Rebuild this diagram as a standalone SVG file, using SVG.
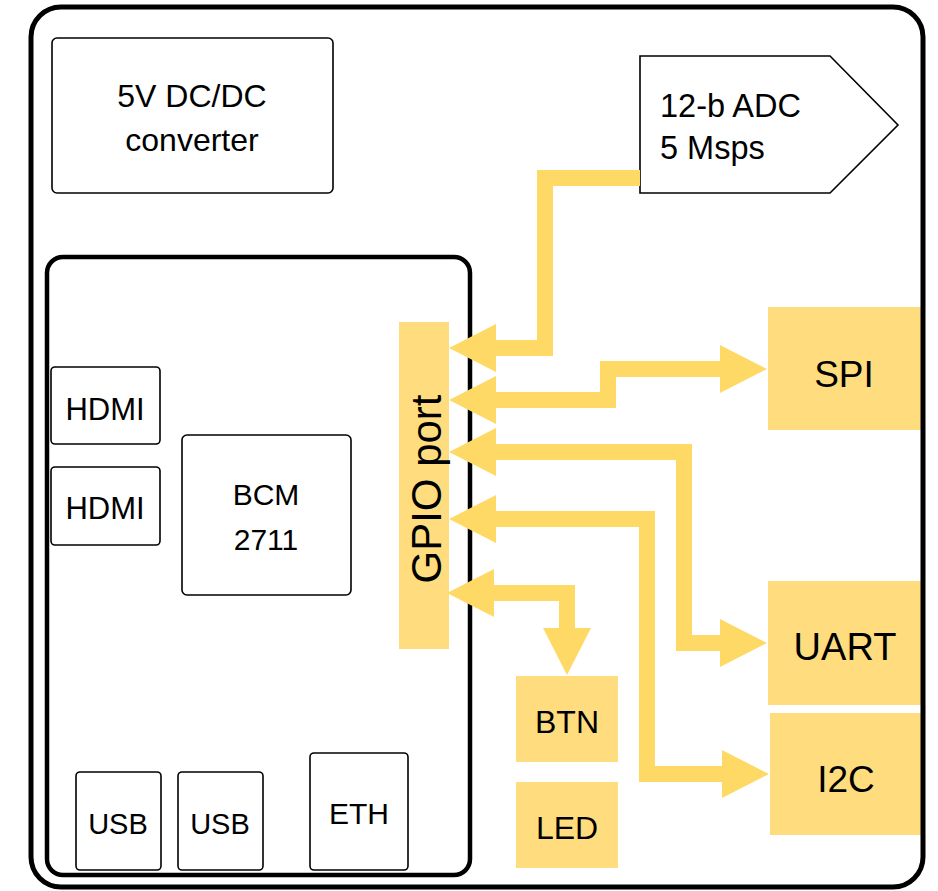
<svg xmlns="http://www.w3.org/2000/svg" width="938" height="891" viewBox="0 0 938 891">
<style>
text{font-family:"Liberation Sans",Arial,sans-serif;fill:#000}
.box{fill:#fff;stroke:#000;stroke-width:1.6}
.ybox{fill:#FFDD7E;stroke:none}
.wire{fill:none;stroke:#FFD966;stroke-width:16;stroke-linejoin:miter}
.c{text-anchor:middle}
</style>
<defs>
<marker id="ah" markerUnits="userSpaceOnUse" markerWidth="48" markerHeight="48" viewBox="0 0 48 48" refX="0" refY="24" orient="auto-start-reverse">
<path d="M0,0 L47,24 L0,48 Z" fill="#FFD966"/>
</marker>
</defs>
<rect width="938" height="891" fill="#fff"/>

<g id="board"><rect x="47" y="257" width="423" height="618" rx="16" fill="none" stroke="#000" stroke-width="4.5"/></g>

<g id="dcdc"><rect class="box" x="52" y="38" width="281" height="155" rx="5"/>
<text class="c" x="192" y="107" font-size="32">5V DC/DC</text>
<text class="c" x="192" y="151" font-size="32">converter</text></g>

<g id="adc"><polygon class="box" points="640,56 830,56 898,125 830,193 640,193"/>
<text x="660" y="117" font-size="32.5">12-b ADC</text>
<text x="660" y="159" font-size="32.5">5 Msps</text></g>

<g id="hdmi1"><rect class="box" x="51" y="367" width="109" height="77" rx="4"/>
<text class="c" x="105" y="420" font-size="31">HDMI</text></g>
<g id="hdmi2"><rect class="box" x="51" y="467" width="109" height="78" rx="4"/>
<text class="c" x="105" y="519" font-size="31">HDMI</text></g>

<g id="bcm"><rect class="box" x="182" y="435" width="169" height="160" rx="5"/>
<text class="c" x="266" y="505" font-size="30">BCM</text>
<text class="c" x="266" y="550" font-size="30">2711</text></g>

<g id="usb1"><rect class="box" x="76" y="772" width="85" height="98" rx="4"/>
<text class="c" x="118" y="834" font-size="29">USB</text></g>
<g id="usb2"><rect class="box" x="178" y="772" width="85" height="98" rx="4"/>
<text class="c" x="220" y="834" font-size="29">USB</text></g>
<g id="eth"><rect class="box" x="310" y="753" width="98" height="117" rx="4"/>
<text class="c" x="359" y="824" font-size="30">ETH</text></g>

<g id="gpio"><rect class="ybox" x="399" y="322" width="50" height="327"/>
<text class="c" transform="translate(441,489) rotate(-90)" font-size="42">GPIO port</text></g>

<g id="spi"><rect class="ybox" x="768" y="307" width="154" height="123"/>
<text class="c" x="844" y="387" font-size="37">SPI</text></g>
<g id="uart"><rect class="ybox" x="768" y="581" width="154" height="124"/>
<text class="c" x="845" y="660" font-size="38">UART</text></g>
<g id="i2c"><rect class="ybox" x="770" y="713" width="152" height="122"/>
<text class="c" x="846" y="792" font-size="37">I2C</text></g>

<g id="btn"><rect class="ybox" x="516" y="676" width="102" height="86"/>
<text class="c" x="567" y="733" font-size="32">BTN</text></g>
<g id="led"><rect class="ybox" x="516" y="782" width="102" height="86"/>
<text class="c" x="567" y="839" font-size="32">LED</text></g>

<g id="connectors">
<path class="wire" d="M640,178 H545 V348 H496" marker-end="url(#ah)"/>
<path class="wire" d="M496,400 H608 V369 H720" marker-start="url(#ah)" marker-end="url(#ah)"/>
<path class="wire" d="M496,452 H684 V643 H720" marker-start="url(#ah)" marker-end="url(#ah)"/>
<path class="wire" d="M496,519 H647 V774 H722" marker-start="url(#ah)" marker-end="url(#ah)"/>
<path class="wire" d="M494,593 H567 V628" marker-start="url(#ah)" marker-end="url(#ah)"/>
</g>

<g id="enclosure"><rect x="31" y="7" width="892" height="880" rx="30" fill="none" stroke="#000" stroke-width="5"/></g>
</svg>
